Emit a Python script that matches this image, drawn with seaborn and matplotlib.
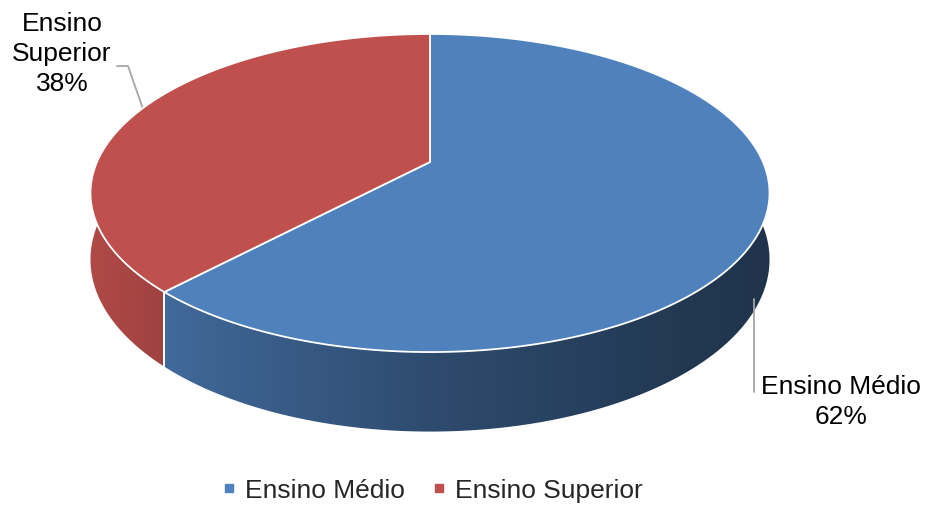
import numpy as np
import matplotlib
matplotlib.use("Agg")
import matplotlib.pyplot as plt
import seaborn as sns
from matplotlib.patches import Polygon
from matplotlib.lines import Line2D

# data
categories = ["Ensino Médio", "Ensino Superior"]
shares = [62, 38]
top_colors = ["#4F81BD", "#C0504D"]

sns.set_theme(style="white")
plt.rcParams['font.family'] = ['Liberation Sans', 'DejaVu Sans']

fig = plt.figure(figsize=(9.25, 5.06), dpi=100)
ax = fig.add_axes([0, 0, 1, 1])
ax.set_xlim(0, 925)
ax.set_ylim(506, 0)
ax.axis('off')

# 3d pie geometry (screen units), simple perspective on the disc
cx, cy = 430, 163
A, B = 333, 153
k = 0.195
depth = 64


def project(t, h=0.0):
    t = np.radians(t)
    w = 1 + k * np.sin(t)
    return cx + A * np.cos(t) / w, cy - B * np.sin(t) / w + h / w


def shade(x):
    return np.interp(x, [90, 160, 200, 435, 695, 770],
                     [0.92, 0.83, 0.78, 0.58, 0.43, 0.40])


# slices go clockwise from the top (t = 90)
fracs = np.array(shares) / np.sum(shares)
ends = 90 - 360 * np.cumsum(fracs)
starts = np.concatenate([[90], ends[:-1]])

# side walls (front half only), gradient image clipped to the wall shape
for s, e, col in zip(starts, ends, top_colors):
    lo, hi = max(e, -180), min(s, 0)
    if lo >= hi:
        continue
    ts = np.linspace(lo, hi, 300)
    xt, yt = project(ts)
    xb, yb = project(ts, depth)
    verts = np.column_stack([np.concatenate([xt, xb[::-1]]),
                             np.concatenate([yt, yb[::-1]])])
    wall = Polygon(verts, closed=True, facecolor='none', edgecolor='none')
    ax.add_patch(wall)
    x0, x1 = verts[:, 0].min() - 2, verts[:, 0].max() + 2
    y0, y1 = verts[:, 1].min() - 2, verts[:, 1].max() + 2
    gx = np.linspace(x0, x1, 400)
    base = np.array(matplotlib.colors.to_rgb(col))
    img = np.clip(base[None, None, :] * shade(gx)[None, :, None], 0, 1)
    im = ax.imshow(img, extent=(x0, x1, y1, y0), aspect='auto',
                   interpolation='bilinear', zorder=1)
    im.set_clip_path(wall)
    # white seam at slice edges that face us
    for t in (s, e):
        if -180 < t < 0:
            xa, ya = project(t)
            xc, yc = project(t, depth)
            ax.plot([xa, xc], [ya, yc], color='white', lw=1.3, zorder=2)

# top faces
for s, e, col in zip(starts, ends, top_colors):
    ts = np.linspace(s, e, 300)
    xs, ys = project(ts)
    ax.fill(np.concatenate([[cx], xs]), np.concatenate([[cy], ys]),
            facecolor=col, edgecolor='white', lw=1.3, joinstyle='round', zorder=3)

ax.set_xlim(0, 925)
ax.set_ylim(506, 0)

# data labels with leader lines
lead = '#A6A6A6'
ax.plot([754, 754], [300, 393], color=lead, lw=1.3)
ax.text(841, 402, f"{categories[0]}\n{shares[0]}%", ha='center', va='center',
        fontsize=19, linespacing=1.3, color='black')
ax.plot([117, 128, 143], [67, 67, 110], color=lead, lw=1.3)
ax.text(62, 54, "Ensino\nSuperior\n" + f"{shares[1]}%", ha='center', va='center',
        fontsize=19, linespacing=1.3, color='black')

handles = [Line2D([], [], marker='s', linestyle='', color=c, markersize=5.5)
           for c in top_colors]
fig.legend(handles, categories, loc='center', bbox_to_anchor=(429 / 925, 1 - 491 / 506),
           ncol=2, frameon=False, fontsize=19, handletextpad=0.1,
           columnspacing=0.8, handlelength=1.0)

fig.savefig('out.png', dpi=100)
